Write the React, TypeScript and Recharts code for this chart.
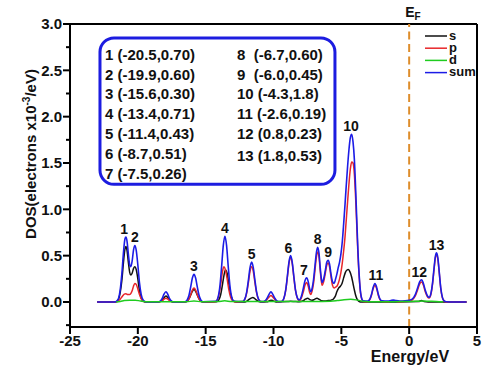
import {
  Label,
  Legend,
  Line,
  LineChart,
  ReferenceArea,
  ReferenceDot,
  ReferenceLine,
  XAxis,
  YAxis,
} from "recharts";

const FONT = "'Liberation Sans', Arial, sans-serif";

const COLORS = {
  s: "#111111",
  p: "#e8262a",
  d: "#1fcc1f",
  sum: "#1c1ce6",
  fermi: "#de8d2c",
  box: "#1c1ce0",
};

const energyTicks = [-25, -20, -15, -10, -5, 0, 5];
const dosTicks = [-0.25, 0, 0.25, 0.5, 0.75, 1, 1.25, 1.5, 1.75, 2, 2.25, 2.5, 2.75, 3];

// [energy (eV), DOS]
const sumCurve = [
  [-23.0, 0], [-21.7, 0], [-21.55, 0.01], [-21.42, 0.04], [-21.3, 0.13], [-21.18, 0.3],
  [-21.05, 0.55], [-20.95, 0.68], [-20.88, 0.7], [-20.8, 0.66], [-20.7, 0.52], [-20.6, 0.4],
  [-20.52, 0.38], [-20.42, 0.44], [-20.32, 0.56], [-20.22, 0.61], [-20.12, 0.56], [-20.0, 0.4],
  [-19.88, 0.21], [-19.75, 0.08], [-19.6, 0.02], [-19.45, 0.003], [-19.3, 0],
  [-18.5, 0], [-18.35, 0.01], [-18.2, 0.04], [-18.07, 0.085], [-17.93, 0.11], [-17.8, 0.085],
  [-17.67, 0.04], [-17.52, 0.01], [-17.35, 0],
  [-16.52, 0.003], [-16.36, 0.023], [-16.22, 0.078], [-16.1, 0.165], [-15.98, 0.258], [-15.86, 0.3],
  [-15.74, 0.258], [-15.62, 0.165], [-15.5, 0.078], [-15.36, 0.023], [-15.2, 0.003],
  [-14.24, 0.008], [-14.08, 0.054], [-13.94, 0.185], [-13.82, 0.39], [-13.7, 0.61], [-13.58, 0.71],
  [-13.46, 0.61], [-13.34, 0.39], [-13.22, 0.185], [-13.08, 0.054], [-12.92, 0.008],
  [-12.27, 0.005], [-12.11, 0.033], [-11.97, 0.112], [-11.85, 0.237], [-11.73, 0.37], [-11.61, 0.43],
  [-11.49, 0.37], [-11.37, 0.237], [-11.25, 0.112], [-11.11, 0.033], [-10.95, 0.006],
  [-10.75, 0.004], [-10.6, 0.015], [-10.46, 0.045], [-10.32, 0.085], [-10.19, 0.11], [-10.06, 0.085],
  [-9.92, 0.045], [-9.78, 0.015], [-9.62, 0.004],
  [-9.4, 0.006], [-9.24, 0.038], [-9.1, 0.13], [-8.98, 0.275], [-8.86, 0.43], [-8.74, 0.5],
  [-8.62, 0.43], [-8.5, 0.275], [-8.38, 0.13], [-8.24, 0.045], [-8.1, 0.022],
  [-7.95, 0.06], [-7.8, 0.15], [-7.68, 0.23], [-7.56, 0.26], [-7.44, 0.22], [-7.33, 0.14], [-7.25, 0.11],
  [-7.15, 0.15], [-7.05, 0.24], [-6.95, 0.38], [-6.85, 0.52], [-6.75, 0.59], [-6.65, 0.53],
  [-6.55, 0.36], [-6.48, 0.26], [-6.42, 0.21],
  [-6.3, 0.25], [-6.18, 0.34], [-6.07, 0.43], [-5.97, 0.45], [-5.87, 0.41], [-5.76, 0.3],
  [-5.65, 0.22], [-5.53, 0.2],
  [-5.43, 0.245], [-5.33, 0.3], [-5.23, 0.37], [-5.13, 0.43], [-5.03, 0.52], [-4.93, 0.65],
  [-4.83, 0.84], [-4.73, 1.05], [-4.64, 1.25], [-4.54, 1.46], [-4.44, 1.64], [-4.34, 1.77],
  [-4.24, 1.81], [-4.14, 1.73], [-4.04, 1.54], [-3.94, 1.2], [-3.87, 0.92], [-3.78, 0.57],
  [-3.68, 0.28], [-3.58, 0.1], [-3.48, 0.03], [-3.38, 0.012],
  [-3.05, 0.01], [-2.9, 0.03], [-2.78, 0.08], [-2.65, 0.16], [-2.52, 0.2], [-2.4, 0.16],
  [-2.27, 0.08], [-2.15, 0.03], [-2.0, 0.012],
  [-1.6, 0.01], [-1.35, 0.015], [-1.18, 0.02], [-1.0, 0.015], [-0.7, 0.01], [-0.3, 0.012],
  [0.0, 0.018], [0.25, 0.035], [0.45, 0.08], [0.62, 0.15], [0.78, 0.22], [0.92, 0.24], [1.05, 0.2],
  [1.2, 0.12], [1.35, 0.065], [1.47, 0.05], [1.6, 0.09], [1.72, 0.2], [1.83, 0.36], [1.93, 0.49],
  [2.02, 0.53], [2.12, 0.47], [2.22, 0.32], [2.33, 0.15], [2.45, 0.05], [2.58, 0.012],
  [2.75, 0.003], [3.2, 0], [4.23, 0],
];

const pCurve = [
  [-23.0, 0], [-21.6, 0], [-21.45, 0.01], [-21.3, 0.03], [-21.15, 0.06], [-21.0, 0.085],
  [-20.88, 0.09], [-20.75, 0.08], [-20.62, 0.08], [-20.52, 0.09], [-20.42, 0.12], [-20.32, 0.17],
  [-20.22, 0.2], [-20.12, 0.19], [-20.0, 0.14], [-19.88, 0.08], [-19.75, 0.035], [-19.6, 0.01],
  [-19.4, 0],
  [-18.5, 0], [-18.3, 0.006], [-18.15, 0.02], [-18.03, 0.035], [-17.93, 0.04], [-17.8, 0.032],
  [-17.65, 0.015], [-17.5, 0.004], [-17.35, 0],
  [-16.52, 0.001], [-16.36, 0.011], [-16.22, 0.038], [-16.1, 0.082], [-15.98, 0.128], [-15.86, 0.15],
  [-15.74, 0.128], [-15.62, 0.082], [-15.5, 0.038], [-15.36, 0.011], [-15.2, 0.001],
  [-14.3, 0.003], [-14.14, 0.025], [-14.0, 0.09], [-13.88, 0.2], [-13.77, 0.32], [-13.66, 0.38],
  [-13.55, 0.35], [-13.43, 0.26], [-13.3, 0.14], [-13.16, 0.05], [-13.0, 0.01], [-12.85, 0],
  [-12.27, 0.004], [-12.11, 0.029], [-11.97, 0.1], [-11.85, 0.21], [-11.73, 0.33], [-11.61, 0.38],
  [-11.49, 0.33], [-11.37, 0.21], [-11.25, 0.1], [-11.11, 0.029], [-10.95, 0.004],
  [-10.75, 0.002], [-10.6, 0.01], [-10.46, 0.03], [-10.32, 0.055], [-10.19, 0.07], [-10.06, 0.055],
  [-9.92, 0.03], [-9.78, 0.01], [-9.62, 0.002],
  [-9.4, 0.005], [-9.24, 0.036], [-9.1, 0.125], [-8.98, 0.265], [-8.86, 0.415], [-8.74, 0.485],
  [-8.62, 0.415], [-8.5, 0.265], [-8.38, 0.125], [-8.24, 0.04], [-8.1, 0.012],
  [-7.95, 0.04], [-7.8, 0.11], [-7.68, 0.18], [-7.56, 0.21], [-7.44, 0.17], [-7.33, 0.1], [-7.25, 0.08],
  [-7.15, 0.12], [-7.05, 0.2], [-6.95, 0.33], [-6.85, 0.47], [-6.75, 0.54], [-6.65, 0.49],
  [-6.55, 0.33], [-6.48, 0.23], [-6.42, 0.18],
  [-6.3, 0.22], [-6.18, 0.31], [-6.07, 0.4], [-5.97, 0.42], [-5.87, 0.38], [-5.76, 0.27],
  [-5.65, 0.18], [-5.53, 0.15],
  [-5.43, 0.16], [-5.33, 0.17], [-5.23, 0.2], [-5.13, 0.25], [-5.03, 0.32], [-4.93, 0.42],
  [-4.83, 0.55], [-4.73, 0.7], [-4.64, 0.88], [-4.54, 1.08], [-4.44, 1.27], [-4.34, 1.43],
  [-4.24, 1.51], [-4.14, 1.5], [-4.04, 1.38], [-3.94, 1.1], [-3.87, 0.85], [-3.78, 0.53],
  [-3.68, 0.26], [-3.58, 0.09], [-3.48, 0.025], [-3.38, 0.005],
  [-3.05, 0.002], [-2.9, 0.025], [-2.78, 0.07], [-2.65, 0.145], [-2.52, 0.18], [-2.4, 0.145],
  [-2.27, 0.07], [-2.15, 0.025], [-2.0, 0.005],
  [-1.5, 0.003], [-1.18, 0.01], [-0.8, 0.003],
  [0.0, 0.008], [0.25, 0.025], [0.45, 0.065], [0.62, 0.13], [0.78, 0.195], [0.92, 0.215],
  [1.05, 0.18], [1.2, 0.105], [1.35, 0.055], [1.47, 0.042], [1.6, 0.08], [1.72, 0.19],
  [1.83, 0.345], [1.93, 0.475], [2.02, 0.515], [2.12, 0.455], [2.22, 0.31], [2.33, 0.145],
  [2.45, 0.045], [2.58, 0.01], [2.75, 0], [4.23, 0],
];

const sCurve = [
  [-23.0, 0], [-21.65, 0], [-21.55, 0.008], [-21.42, 0.03], [-21.3, 0.1], [-21.18, 0.23],
  [-21.05, 0.44], [-20.95, 0.57], [-20.88, 0.6], [-20.8, 0.56], [-20.7, 0.43], [-20.6, 0.32],
  [-20.52, 0.29], [-20.42, 0.31], [-20.32, 0.36], [-20.22, 0.38], [-20.12, 0.35], [-20.0, 0.25],
  [-19.88, 0.12], [-19.75, 0.04], [-19.6, 0.008], [-19.45, 0],
  [-18.5, 0], [-18.35, 0.004], [-18.2, 0.018], [-18.07, 0.045], [-17.93, 0.065], [-17.8, 0.05],
  [-17.67, 0.022], [-17.52, 0.005], [-17.35, 0],
  [-16.52, 0.001], [-16.36, 0.01], [-16.22, 0.035], [-16.1, 0.075], [-15.98, 0.115], [-15.86, 0.135],
  [-15.74, 0.115], [-15.62, 0.075], [-15.5, 0.035], [-15.36, 0.01], [-15.2, 0.001],
  [-14.2, 0.003], [-14.04, 0.02], [-13.9, 0.075], [-13.78, 0.17], [-13.66, 0.28], [-13.54, 0.345],
  [-13.42, 0.31], [-13.3, 0.2], [-13.18, 0.095], [-13.04, 0.03], [-12.88, 0.005], [-12.7, 0],
  [-12.1, 0], [-11.95, 0.01], [-11.8, 0.028], [-11.65, 0.042], [-11.52, 0.048], [-11.4, 0.04],
  [-11.27, 0.022], [-11.12, 0.008], [-10.95, 0],
  [-10.5, 0.002], [-10.33, 0.01], [-10.19, 0.02], [-10.05, 0.015], [-9.9, 0.005], [-9.75, 0],
  [-9.0, 0.005], [-8.74, 0.008], [-8.45, 0.005], [-8.1, 0.002],
  [-7.85, 0.01], [-7.65, 0.03], [-7.48, 0.04], [-7.32, 0.025], [-7.15, 0.018], [-6.98, 0.028],
  [-6.8, 0.04], [-6.62, 0.028], [-6.45, 0.012], [-6.2, 0.01], [-5.97, 0.015], [-5.75, 0.02],
  [-5.6, 0.03], [-5.45, 0.06], [-5.33, 0.11], [-5.2, 0.15], [-5.07, 0.17], [-4.95, 0.2],
  [-4.83, 0.26], [-4.7, 0.32], [-4.58, 0.345], [-4.49, 0.35], [-4.38, 0.33], [-4.24, 0.27],
  [-4.14, 0.2], [-4.04, 0.13], [-3.94, 0.07], [-3.84, 0.03], [-3.72, 0.01], [-3.6, 0],
  [-1.0, 0], [0.7, 0.005], [0.92, 0.015], [1.1, 0.005], [1.4, 0], [4.23, 0],
];

const dCurve = [
  [-21.6, 0], [-21.3, 0.005], [-21.0, 0.015], [-20.6, 0.02], [-20.2, 0.02], [-19.8, 0.01],
  [-19.4, 0.003], [-16.4, 0.003], [-15.86, 0.01], [-15.3, 0.003], [-14.1, 0.004], [-13.6, 0.013],
  [-13.1, 0.004], [-11.6, 0.005], [-8.7, 0.006], [-7.0, 0.006], [-5.8, 0.008], [-5.3, 0.015],
  [-4.8, 0.025], [-4.3, 0.03], [-3.8, 0.02], [-3.4, 0.008], [-3.0, 0.003], [-2.0, 0.003],
  [-0.5, 0.005], [0.5, 0.008], [1.0, 0.01], [1.5, 0.008], [2.0, 0.006], [2.5, 0.002],
];

const peakIds = ["1", "2", "3", "4", "5", "6", "7", "8", "9", "10", "11", "12", "13"];
const peakLabelEnergy = [-21.0, -20.21, -15.86, -13.58, -11.61, -8.9, -7.76, -6.75, -5.97, -4.29, -2.45, 0.75, 2.02];
const peakLabelDos = [0.7, 0.61, 0.3, 0.71, 0.43, 0.5, 0.26, 0.59, 0.45, 1.81, 0.2, 0.24, 0.53];

const peakTableLeft = [
  "1 (-20.5,0.70)",
  "2 (-19.9,0.60)",
  "3 (-15.6,0.30)",
  "4 (-13.4,0.71)",
  "5 (-11.4,0.43)",
  "6 (-8.7,0.51)",
  "7 (-7.5,0.26)",
];
const peakTableRight = [
  "8  (-6.7,0.60)",
  "9  (-6.0,0.45)",
  "10 (-4.3,1.8)",
  "11 (-2.6,0.19)",
  "12 (0.8,0.23)",
  "13 (1.8,0.53)",
];

const legendItems = [
  { name: "s", color: COLORS.s },
  { name: "p", color: COLORS.p },
  { name: "d", color: COLORS.d },
  { name: "sum", color: COLORS.sum },
];

const toPoints = (pairs: number[][]) => pairs.map(([e, v]) => ({ e, v }));

function DosTick({ x, y, payload }: any) {
  const v = payload.value as number;
  const major = Math.abs(v * 2 - Math.round(v * 2)) < 1e-6;
  const axisX = x + 8;
  return (
    <g>
      <line x1={axisX - (major ? 7 : 4)} x2={axisX} y1={y} y2={y} stroke="#000" strokeWidth={2} />
      {major && (
        <text x={x} y={y} dy="0.36em" textAnchor="end" fill="#111" fontSize={15} fontWeight={700}>
          {v.toFixed(1)}
        </text>
      )}
    </g>
  );
}

function LegendBox() {
  return (
    <svg width={60} height={54} style={{ display: "block" }}>
      {legendItems.map((item, i) => {
        const y = 7 + i * 12.2;
        return (
          <g key={item.name}>
            <line x1={1} x2={23} y1={y} y2={y} stroke={item.color} strokeWidth={1.5} />
            <text x={25} y={y + 3.5} fontSize={13} fontWeight={700} fill="#111" fontFamily={FONT}>
              {item.name}
            </text>
          </g>
        );
      })}
    </svg>
  );
}

export default function App() {
  return (
    <div style={{ position: "absolute", left: 0, top: 0, fontFamily: FONT, background: "#fff" }}>
      <LineChart width={484} height={369} margin={{ top: 24, right: 7, bottom: 0, left: 0 }}>
        <XAxis
          dataKey="e"
          type="number"
          domain={[-25, 5]}
          ticks={energyTicks}
          allowDataOverflow
          height={42}
          tickSize={7}
          tickMargin={1}
          axisLine={{ stroke: "#000", strokeWidth: 2 }}
          tickLine={{ stroke: "#000", strokeWidth: 2 }}
          tick={{ fill: "#111", fontSize: 15, fontWeight: 700 }}
        >
          <Label
            content={({ viewBox }: any) => (
              <text
                x={viewBox.x + viewBox.width - 67}
                y={viewBox.y + 35}
                textAnchor="middle"
                fontSize={16}
                fontWeight={700}
                fill="#111"
              >
                Energy/eV
              </text>
            )}
          />
        </XAxis>
        <YAxis
          type="number"
          domain={[-0.27, 3]}
          ticks={dosTicks}
          allowDataOverflow
          width={70}
          tickSize={7}
          tickMargin={1}
          tickLine={false}
          axisLine={{ stroke: "#000", strokeWidth: 2 }}
          tick={<DosTick />}
        >
          <Label
            content={({ viewBox }: any) => {
              const cx = viewBox.x + 36;
              const cy = viewBox.y + 130;
              return (
                <text
                  x={cx}
                  y={cy}
                  transform={`rotate(-90, ${cx}, ${cy})`}
                  textAnchor="middle"
                  fontSize={15}
                  fontWeight={700}
                  fill="#111"
                >
                  <tspan>DOS(electrons x10</tspan>
                  <tspan dy={-6} fontSize={10}>-3</tspan>
                  <tspan dy={6}>/eV)</tspan>
                </text>
              );
            }}
          />
        </YAxis>

        <ReferenceLine y={3} stroke="#000" strokeWidth={2} />
        <ReferenceLine x={5} stroke="#000" strokeWidth={2} />
        <ReferenceLine
          x={0}
          stroke={COLORS.fermi}
          strokeWidth={2}
          strokeDasharray="8 4.5"
          label={({ viewBox }: any) => (
            <text x={viewBox.x - 4} y={viewBox.y - 7} fontSize={14} fontWeight={700} fill="#111">
              <tspan>E</tspan>
              <tspan dy={3} fontSize={10}>F</tspan>
            </text>
          )}
        />

        <ReferenceArea
          x1={-22.79}
          x2={-5.47}
          y1={1.27}
          y2={2.85}
          fill="none"
          fillOpacity={0}
          stroke={COLORS.box}
          strokeWidth={3}
          radius={14}
          label={({ viewBox }: any) => (
            <g fontSize={15} fontWeight={700} fill="#111">
              {peakTableLeft.map((row, i) => (
                <text key={row} x={viewBox.x + 5} y={viewBox.y + 22 + i * 19.8} style={{ whiteSpace: "pre" }}>
                  {row}
                </text>
              ))}
              {peakTableRight.map((row, i) => (
                <text key={row} x={viewBox.x + 137} y={viewBox.y + 22 + i * 19.8 + (i === 5 ? 2 : 0)} style={{ whiteSpace: "pre" }}>
                  {row}
                </text>
              ))}
            </g>
          )}
        />

        <Line data={toPoints(sCurve)} dataKey="v" name="s" type="monotone" stroke={COLORS.s} strokeWidth={1.5} dot={false} activeDot={false} isAnimationActive={false} />
        <Line data={toPoints(pCurve)} dataKey="v" name="p" type="monotone" stroke={COLORS.p} strokeWidth={1.5} dot={false} activeDot={false} isAnimationActive={false} />
        <Line data={toPoints(sumCurve)} dataKey="v" name="sum" type="monotone" stroke={COLORS.sum} strokeWidth={1.6} dot={false} activeDot={false} isAnimationActive={false} />
        <Line data={toPoints(dCurve)} dataKey="v" name="d" type="monotone" stroke={COLORS.d} strokeWidth={1.5} dot={false} activeDot={false} isAnimationActive={false} />

        {peakIds.map((id, i) => (
          <ReferenceDot
            key={id}
            x={peakLabelEnergy[i]}
            y={peakLabelDos[i]}
            r={0}
            fill="none"
            stroke="none"
            label={({ viewBox }: any) => (
              <text x={viewBox.x} y={viewBox.y - 3} textAnchor="middle" fontSize={14} fontWeight={700} fill="#111">
                {id}
              </text>
            )}
          />
        ))}

        <Legend
          layout="horizontal"
          verticalAlign="middle"
          align="center"
          wrapperStyle={{ left: 424, top: 29, width: 60, height: 54 }}
          content={() => <LegendBox />}
        />
      </LineChart>
    </div>
  );
}
